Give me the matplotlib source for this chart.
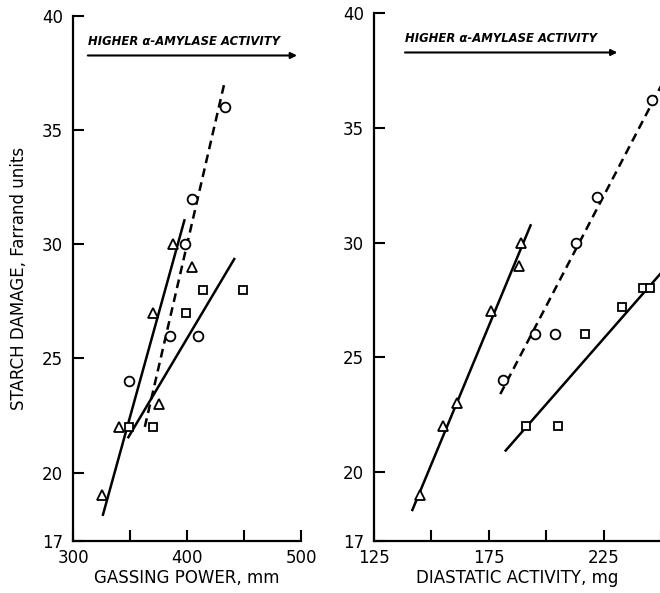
import matplotlib
matplotlib.use("Agg")
import matplotlib.pyplot as plt

# ---- Left panel: gassing power ----
gp_tri_x = [325, 340, 370, 375, 388, 404]
gp_tri_y = [19, 22, 27, 23, 30, 29]
gp_cir_x = [349, 385, 398, 404, 410, 433]
gp_cir_y = [24, 26, 30, 32, 26, 36]
gp_sq_x = [349, 370, 399, 414, 449]
gp_sq_y = [22, 22, 27, 28, 28]
gp_tri_line_x = [326, 398]
gp_tri_line_y = [18.1, 31.1]
gp_cir_line_x = [363, 433]
gp_cir_line_y = [22.0, 37.1]
gp_sq_line_x = [348, 442]
gp_sq_line_y = [21.5, 29.4]

# ---- Right panel: diastatic activity ----
da_tri_x = [145, 155, 161, 176, 188, 189]
da_tri_y = [19, 22, 23, 27, 29, 30]
da_cir_x = [181, 195, 204, 213, 222, 246]
da_cir_y = [24, 26, 26, 30, 32, 36.2]
da_sq_x = [191, 205, 217, 233, 242, 245]
da_sq_y = [22, 22, 26, 27.2, 28, 28]
da_tri_line_x = [141.5, 193.4]
da_tri_line_y = [18.3, 30.8]
da_cir_line_x = [180, 252]
da_cir_line_y = [23.4, 37.2]
da_sq_line_x = [182, 252]
da_sq_line_y = [20.9, 28.9]

yticks = [17, 20, 25, 30, 35, 40]
gp_ticks = [300, 350, 400, 450, 500]
gp_labels = ["300", "", "400", "", "500"]
da_ticks = [125, 150, 175, 200, 225, 250]
da_labels = ["125", "", "175", "", "225", ""]

plt.rcParams["font.family"] = ["DejaVu Sans"]
W, H = 660, 593
fig = plt.figure(figsize=(W / 100, H / 100), dpi=100)

axL = fig.add_axes([73 / W, 1 - 541 / H, (301 - 73) / W, (541 - 16) / H])
axR = fig.add_axes([374 / W, 1 - 541 / H, (661 - 374) / W, (541 - 13) / H])

mk = dict(linestyle="none", markerfacecolor="white", markeredgecolor="black",
          markeredgewidth=1.3, zorder=3)

def style(ax, xlim, xt, xl):
    ax.set_xlim(*xlim)
    ax.set_ylim(17, 40)
    for s in ("top", "right"):
        ax.spines[s].set_visible(False)
    for s in ("left", "bottom"):
        ax.spines[s].set_linewidth(1.6)
    ax.set_yticks(yticks)
    ax.set_yticklabels([str(v) for v in yticks])
    ax.set_xticks(xt)
    ax.set_xticklabels(xl)
    ax.tick_params(direction="in", length=8, width=1.5, labelsize=12, pad=7)
    ax.tick_params(axis="x", pad=6)

def panel(ax, tx, ty, cx, cy, sx, sy, tlx, tly, clx, cly, slx, sly):
    ax.plot(tlx, tly, color="black", lw=1.8, solid_capstyle="butt")
    ax.plot(clx, cly, color="black", lw=1.8, linestyle=(0, (3.5, 2.2)))
    ax.plot(slx, sly, color="black", lw=1.8, solid_capstyle="butt")
    ax.plot(tx, ty, marker="^", markersize=7, **mk)
    ax.plot(cx, cy, marker="o", markersize=7, **mk)
    ax.plot(sx, sy, marker="s", markersize=6, **mk)

panel(axL, gp_tri_x, gp_tri_y, gp_cir_x, gp_cir_y, gp_sq_x, gp_sq_y,
      gp_tri_line_x, gp_tri_line_y, gp_cir_line_x, gp_cir_line_y,
      gp_sq_line_x, gp_sq_line_y)
panel(axR, da_tri_x, da_tri_y, da_cir_x, da_cir_y, da_sq_x, da_sq_y,
      da_tri_line_x, da_tri_line_y, da_cir_line_x, da_cir_line_y,
      da_sq_line_x, da_sq_line_y)

style(axL, (300, 500), gp_ticks, gp_labels)
style(axR, (125, 250), da_ticks, da_labels)

axL.set_xlabel("GASSING POWER, mm", fontsize=12, labelpad=1)
axR.set_xlabel("DIASTATIC ACTIVITY, mg", fontsize=12, labelpad=1)
axL.set_ylabel("STARCH DAMAGE, Farrand units", fontsize=12, labelpad=10)

arrow_text = "HIGHER α-AMYLASE ACTIVITY"
for ax, x0, x1, y in ((axL, 313, 496.5, 38.27), (axR, 138.5, 231, 38.28)):
    ax.annotate("", xy=(x1, y), xytext=(x0, y),
                arrowprops=dict(arrowstyle="-|>", color="black", lw=1.5,
                                mutation_scale=9, shrinkA=0, shrinkB=0),
                annotation_clip=False)
    ax.text(x0, y + 0.33, arrow_text, fontsize=8.4, style="italic",
            fontweight="bold", ha="left", va="bottom")

fig.savefig("out.png", dpi=100)
